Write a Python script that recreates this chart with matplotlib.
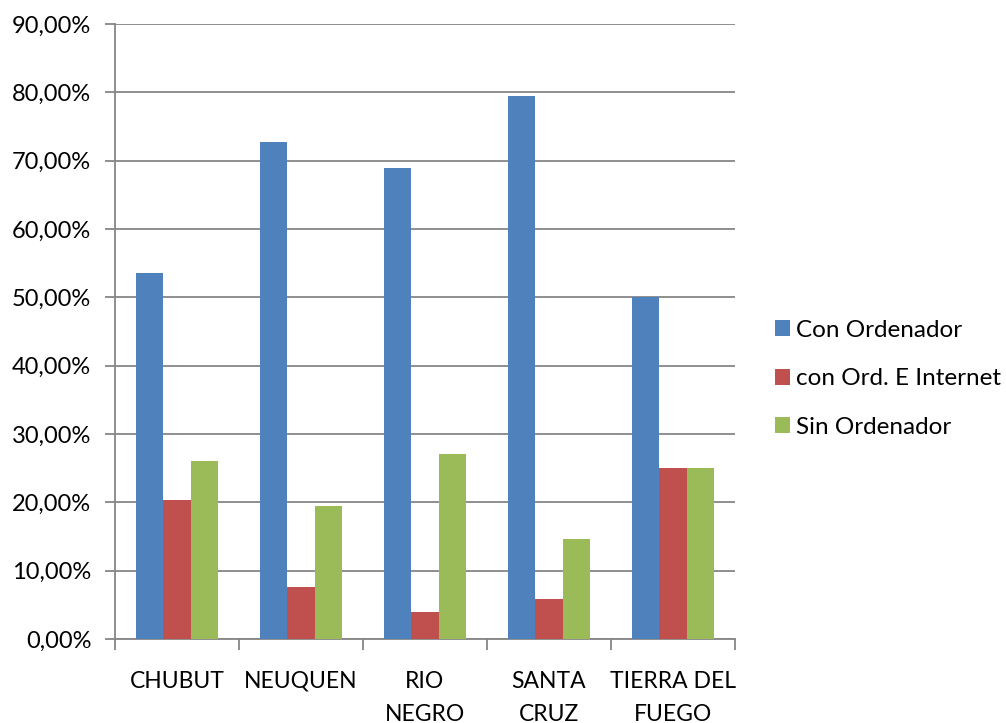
import matplotlib.pyplot as plt
import numpy as np
from matplotlib.ticker import FuncFormatter

provincias = ['CHUBUT', 'NEUQUEN', 'RIO\nNEGRO', 'SANTA\nCRUZ', 'TIERRA DEL\nFUEGO']
con_ordenador = [53.6, 72.8, 68.9, 79.4, 50.0]
con_internet = [20.3, 7.6, 4.0, 5.9, 25.0]
sin_ordenador = [26.1, 19.5, 27.1, 14.7, 25.0]

series = ['Con Ordenador', 'con Ord. E Internet', 'Sin Ordenador']
colores = ['#4f81bd', '#c0504d', '#9bbb59']

plt.rcParams['font.family'] = ['Lato', 'DejaVu Sans']

fig = plt.figure(figsize=(10.06, 7.23), dpi=100)
ax = fig.add_axes([0.1143, 0.1162, 0.6163, 0.8506])

x = np.arange(len(provincias))
w = 0.22
for i, (vals, nombre, c) in enumerate(zip([con_ordenador, con_internet, sin_ordenador], series, colores)):
    ax.bar(x + (i - 1) * w, vals, w, color=c, label=nombre, zorder=3)

ax.set_xlim(-0.5, len(provincias) - 0.5)
ax.set_ylim(0, 90)
ax.set_yticks(np.arange(0, 91, 10))
ax.yaxis.set_major_formatter(FuncFormatter(lambda v, p: f'{v:.2f}%'.replace('.', ',')))
ax.grid(axis='y', color='#868686', linewidth=1.3, zorder=0)

# category labels between boundary ticks
ax.set_xticks(x)
ax.set_xticklabels(provincias, fontsize=16.5, linespacing=1.7, va='top')
ax.tick_params(axis='x', length=0, pad=23)
ax.set_xticks(np.arange(-0.5, len(provincias), 1), minor=True)
ax.tick_params(axis='x', which='minor', length=8, color='#868686', width=1.3)
ax.tick_params(axis='y', length=7, color='#868686', width=1.3, labelsize=17, pad=10)

for s in ['top', 'right']:
    ax.spines[s].set_visible(False)
for s in ['left', 'bottom']:
    ax.spines[s].set_color('#868686')
    ax.spines[s].set_linewidth(1.3)

fig.legend(*ax.get_legend_handles_labels(), loc='center left',
           bbox_to_anchor=(775 / 1006, 0.476), frameon=False, fontsize=17.5,
           borderpad=0, borderaxespad=0, handlelength=0.62, handleheight=0.62,
           handletextpad=0.25, labelspacing=1.13)

fig.savefig('out.png', dpi=100)
